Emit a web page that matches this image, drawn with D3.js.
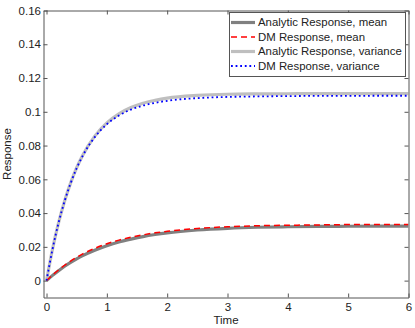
<!DOCTYPE html>
<html>
<head>
<meta charset="utf-8">
<script src="https://cdn.jsdelivr.net/npm/d3@7"></script>
<style>
  body { margin: 0; background: #fff; }
  text { font-family: "Liberation Sans", Arial, sans-serif; fill: #222; }
  .axis path, .axis line { stroke: #555; }
</style>
</head>
<body>
<script>
//time points shared by all series
var times = [0, 0.1, 0.2, 0.3, 0.4, 0.5, 0.6, 0.8, 1.0, 1.2, 1.4, 1.6, 1.8, 2.0, 2.5, 3.0, 3.5, 4.0, 4.5, 5.0, 5.5, 6.0];

//values
var analyticMean = [0, 0.0031, 0.0059, 0.0085, 0.0108, 0.0129, 0.0148, 0.0180, 0.0207, 0.0229, 0.0246, 0.0261, 0.0273, 0.0283, 0.0300, 0.0310, 0.0316, 0.0319, 0.0321, 0.0322, 0.0323, 0.0323];
var dmMean = [0, 0.0033, 0.0063, 0.0091, 0.0116, 0.0138, 0.0158, 0.0191, 0.0218, 0.0240, 0.0257, 0.0271, 0.0283, 0.0292, 0.0309, 0.0319, 0.0325, 0.0328, 0.0330, 0.0332, 0.0333, 0.0333];
var analyticVar = [0, 0.0187, 0.0343, 0.0472, 0.0579, 0.0669, 0.0743, 0.0856, 0.0934, 0.0988, 0.1025, 0.1051, 0.1068, 0.1081, 0.1097, 0.1104, 0.1106, 0.1107, 0.1108, 0.1108, 0.1108, 0.1108];
var dmVar = [0, 0.0187, 0.0343, 0.0471, 0.0577, 0.0666, 0.0739, 0.0850, 0.0926, 0.0978, 0.1013, 0.1037, 0.1053, 0.1065, 0.1081, 0.1088, 0.1091, 0.1093, 0.1094, 0.1094, 0.1095, 0.1095];

var xTicks = [0, 1, 2, 3, 4, 5, 6];
var yTicks = [0, 0.02, 0.04, 0.06, 0.08, 0.1, 0.12, 0.14, 0.16];
var legendLabels = ["Analytic Response, mean", "DM Response, mean", "Analytic Response, variance", "DM Response, variance"];

(function(){
  var width = 415, height = 328;
  var pLeft = 43.5, pRight = 408.5, pTop = 10.5, pBottom = 297.5;

  var svg = d3.select("body").append("svg")
    .attr("width", width)
    .attr("height", height);

  var x = d3.scaleLinear().domain([-0.05, 6]).range([pLeft, pRight]);
  var y = d3.scaleLinear().domain([-0.01, 0.16]).range([pBottom, pTop]);

  //clip for the curves
  svg.append("clipPath").attr("id", "clip")
    .append("rect")
    .attr("x", pLeft).attr("y", pTop)
    .attr("width", pRight - pLeft).attr("height", pBottom - pTop);

  //series styles
  var series = [
    {vals: analyticMean, color: "#808080", w: 3.2, dash: null},
    {vals: dmMean, color: "#ff0000", w: 1.5, dash: "6,4"},
    {vals: analyticVar, color: "#bfbfbf", w: 3.2, dash: null},
    {vals: dmVar, color: "#0000ff", w: 1.8, dash: "1.8,2.8"}
  ];

  var line = d3.line()
    .x(function(d){ return x(d[0]); })
    .y(function(d){ return y(d[1]); })
    .curve(d3.curveMonotoneX);

  //draw analytic (thick) first, then DM on top
  [0, 2, 1, 3].forEach(function(i){
    var s = series[i];
    svg.append("path")
      .datum(times.map(function(t, k){ return [t, s.vals[k]]; }))
      .attr("clip-path", "url(#clip)")
      .attr("fill", "none")
      .attr("stroke", s.color)
      .attr("stroke-width", s.w)
      .attr("stroke-dasharray", s.dash)
      .attr("d", line);
  });

  //axes with inward ticks, on all four sides
  var fmt = function(d){ return String(+d.toFixed(2)); };

  svg.append("g").attr("class", "axis")
    .attr("transform", "translate(0," + pBottom + ")")
    .call(d3.axisBottom(x).tickValues(xTicks).tickFormat(fmt).tickSizeInner(-4).tickSizeOuter(0).tickPadding(5))
    .call(function(g){ g.selectAll("text").attr("font-size", 11.5).attr("fill", "#222"); });

  svg.append("g").attr("class", "axis")
    .attr("transform", "translate(" + pLeft + ",0)")
    .call(d3.axisLeft(y).tickValues(yTicks).tickFormat(fmt).tickSizeInner(-4).tickSizeOuter(0).tickPadding(2.5))
    .call(function(g){ g.selectAll("text").attr("font-size", 11.5).attr("fill", "#222"); });

  svg.append("g").attr("class", "axis")
    .attr("transform", "translate(0," + pTop + ")")
    .call(d3.axisTop(x).tickValues(xTicks).tickFormat("").tickSizeInner(-4).tickSizeOuter(0));

  svg.append("g").attr("class", "axis")
    .attr("transform", "translate(" + pRight + ",0)")
    .call(d3.axisRight(y).tickValues(yTicks).tickFormat("").tickSizeInner(-4).tickSizeOuter(0));

  //axis labels
  svg.append("text")
    .attr("x", (pLeft + pRight) / 2)
    .attr("y", 324)
    .attr("text-anchor", "middle")
    .attr("font-size", 11.5)
    .text("Time");

  svg.append("text")
    .attr("transform", "translate(11," + ((pTop + pBottom) / 2) + ") rotate(-90)")
    .attr("text-anchor", "middle")
    .attr("font-size", 11.5)
    .text("Response");

  //legend
  var legend = svg.append("g").attr("transform", "translate(229.5,12.5)");
  legend.append("rect")
    .attr("width", 176).attr("height", 64)
    .attr("fill", "#fff").attr("stroke", "#555");

  legendLabels.forEach(function(lab, i){
    var s = series[i];
    var ly = 10 + i * 14.5;
    legend.append("line")
      .attr("x1", 1.5).attr("x2", 25.5)
      .attr("y1", ly).attr("y2", ly)
      .attr("stroke", s.color)
      .attr("stroke-width", s.w)
      .attr("stroke-dasharray", s.dash);
    legend.append("text")
      .attr("x", 28.5).attr("y", ly)
      .attr("dy", "0.35em")
      .attr("font-size", 11.4)
      .text(lab);
  });
})();
</script>
</body>
</html>
